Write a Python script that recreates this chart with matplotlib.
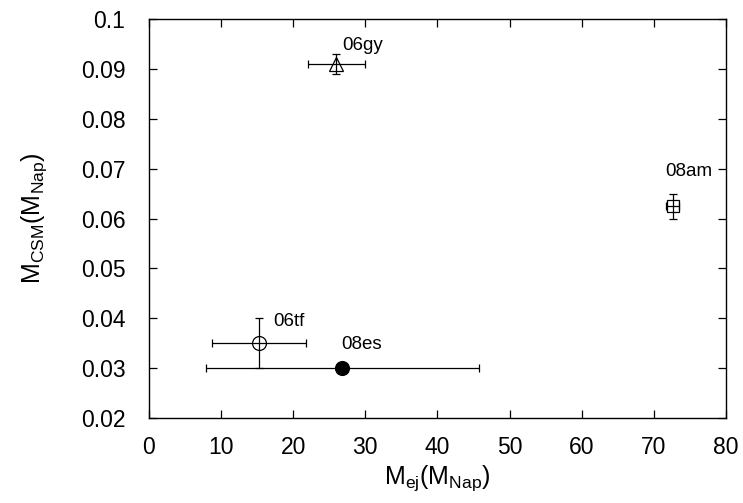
import matplotlib
matplotlib.use("Agg")
import matplotlib.pyplot as plt

plt.rcParams["font.family"] = ["Liberation Sans", "DejaVu Sans"]
plt.rcParams["mathtext.fontset"] = "custom"
plt.rcParams["mathtext.rm"] = "Liberation Sans"
plt.rcParams["mathtext.default"] = "regular"

# supernova name, ejecta mass, CSM mass and their errors
names = ["06gy", "08am", "06tf", "08es"]
m_ej = [26.0, 72.6, 15.3, 26.8]
m_ej_err = [4.0, 0.9, 6.5, 18.9]
m_csm = [0.091, 0.0625, 0.035, 0.030]
m_csm_err = [0.002, 0.0025, 0.005, 0.0]
markers = ["^", "s", "o", "o"]
filled = [False, False, False, True]
# where each name sits relative to its point (baseline of the text)
label_offsets = [(0.8, 0.0028), (-1.0, 0.0061), (1.9, 0.0035), (-0.1, 0.0039)]

fig = plt.figure(figsize=(7.43, 5.03), dpi=100)
ax = fig.add_axes([0.2005, 0.169, 0.7765, 0.793])

for i in range(len(names)):
    ax.errorbar(m_ej[i], m_csm[i], xerr=m_ej_err[i],
                yerr=m_csm_err[i] if m_csm_err[i] > 0 else None,
                fmt="none", ecolor="black", elinewidth=0.9, capsize=3,
                capthick=0.9, zorder=2)
    ax.plot(m_ej[i], m_csm[i], marker=markers[i], linestyle="none",
            markersize=10 if markers[i] != "s" else 9,
            markerfacecolor="black" if filled[i] else "none",
            markeredgecolor="black", markeredgewidth=0.9, zorder=3)
    dx, dy = label_offsets[i]
    ax.text(m_ej[i] + dx, m_csm[i] + dy, names[i], fontsize=13.5,
            ha="left", va="baseline", zorder=4)

ax.set_xlim(0, 80)
ax.set_ylim(0.02, 0.1)
ax.set_xticks(range(0, 81, 10))
ax.set_yticks([0.02, 0.03, 0.04, 0.05, 0.06, 0.07, 0.08, 0.09, 0.1])
ax.set_yticklabels(["0.02", "0.03", "0.04", "0.05", "0.06", "0.07",
                    "0.08", "0.09", "0.1"])
ax.tick_params(direction="in", top=True, right=True, length=6,
               width=0.9, labelsize=16.5)
ax.tick_params(axis="x", pad=13)
ax.tick_params(axis="y", pad=17)
for spine in ax.spines.values():
    spine.set_linewidth(1.0)

ax.set_xlabel("$M_{ej}(M_{Nap})$", fontsize=18, labelpad=3)
ax.set_ylabel("$M_{CSM}(M_{Nap})$", fontsize=18, labelpad=23)

fig.savefig("out.png", dpi=100)
